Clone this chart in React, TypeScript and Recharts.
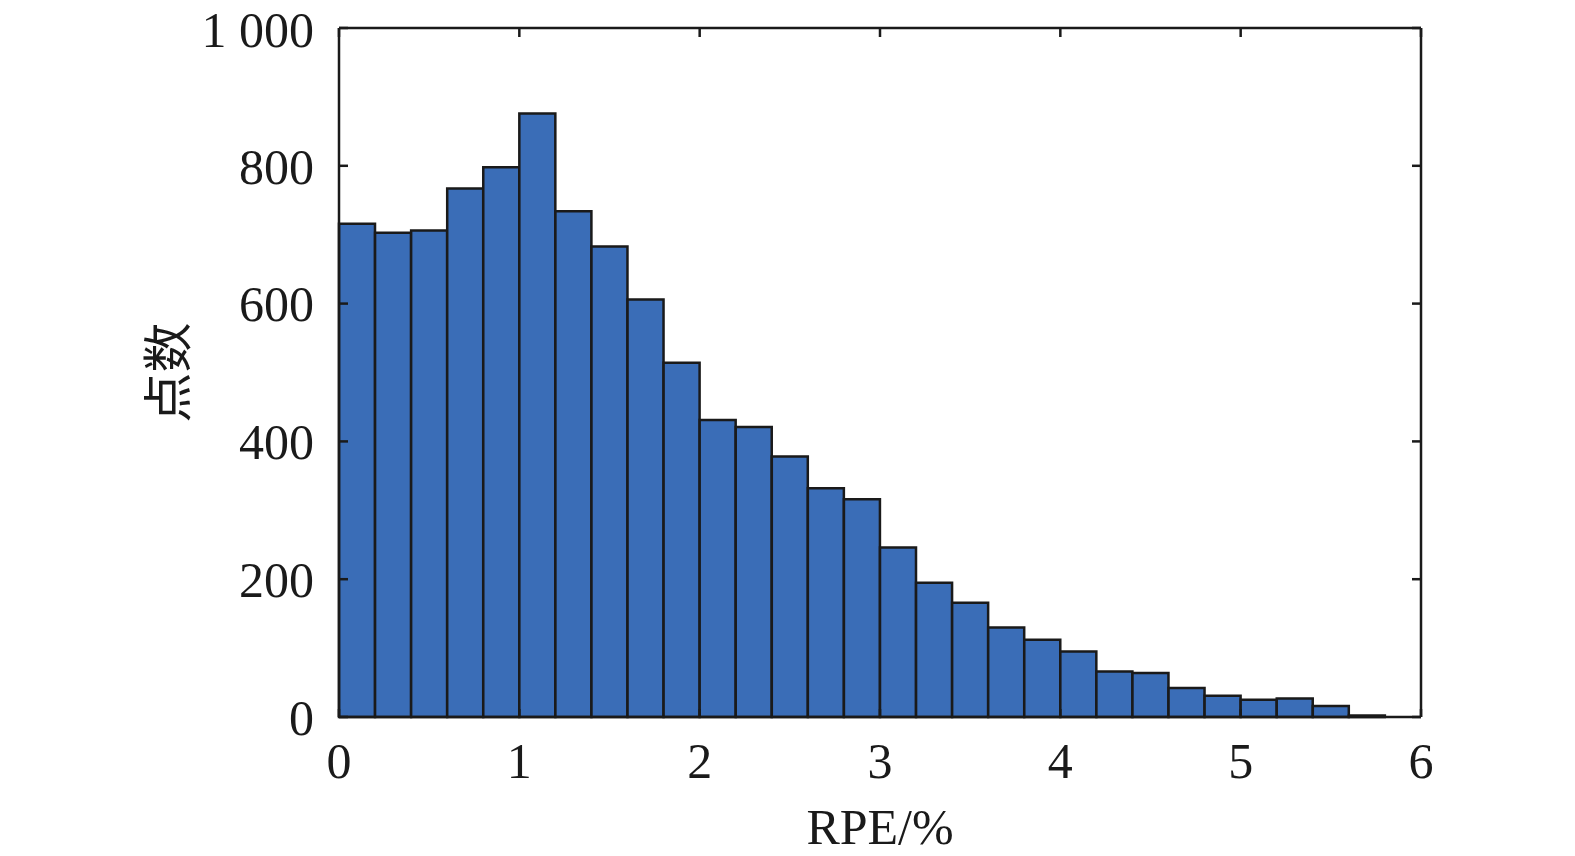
import { ComposedChart, Bar, Line, XAxis, YAxis } from 'recharts'

// histogram bins of RPE (%), width 0.2
const binStart = [
  0, 0.2, 0.4, 0.6, 0.8, 1.0, 1.2, 1.4, 1.6, 1.8,
  2.0, 2.2, 2.4, 2.6, 2.8, 3.0, 3.2, 3.4, 3.6, 3.8,
  4.0, 4.2, 4.4, 4.6, 4.8, 5.0, 5.2, 5.4, 5.6, 5.8,
]
const counts = [
  716, 703, 706, 767, 798, 876, 734, 683, 606, 514,
  431, 421, 378, 332, 316, 246, 195, 166, 130, 112,
  95, 66, 64, 42, 31, 25, 27, 16, 2, 0,
]
const xTicks = [0, 1, 2, 3, 4, 5, 6]
const yTicks = [0, 200, 400, 600, 800, 1000]

const data = binStart.map((s, i) => ({ bin: String(i), mid: s + 0.1, count: counts[i] }))

const font = '"Liberation Serif", "Times New Roman", serif'
const tickStyle = { fill: '#1a1a1a', fontSize: 50, fontFamily: font }
const axisStroke = { stroke: '#1a1a1a', strokeWidth: 2.5 }

const fmtY = (v: number) => (v >= 1000 ? '1 000' : String(v))
const blank = () => ''

export default function App() {
  return (
    <div style={{ position: 'absolute', left: 0, top: 0, width: 1575, height: 856, background: '#fff' }}>
      <ComposedChart
        width={1575}
        height={856}
        data={data}
        margin={{ top: 27, right: 0, bottom: 0, left: 0 }}
        barCategoryGap={0}
        barGap={0}
      >
        <XAxis xAxisId="cat" dataKey="bin" hide height={0} />
        <XAxis
          xAxisId="num"
          dataKey="mid"
          type="number"
          domain={[0, 6]}
          ticks={xTicks}
          allowDataOverflow
          height={139}
          axisLine={axisStroke}
          tickLine={axisStroke}
          tickSize={-8}
          tickMargin={33}
          tick={tickStyle}
          label={{ value: 'RPE/%', position: 'insideBottom', offset: 12, fill: '#1a1a1a', fontSize: 50, fontFamily: font }}
        />
        <XAxis
          xAxisId="top"
          orientation="top"
          dataKey="mid"
          type="number"
          domain={[0, 6]}
          ticks={xTicks}
          allowDataOverflow
          height={1}
          axisLine={axisStroke}
          tickLine={axisStroke}
          tickSize={-9}
          tickFormatter={blank}
        />
        <YAxis
          yAxisId="left"
          domain={[0, 1000]}
          ticks={yTicks}
          width={339}
          axisLine={axisStroke}
          tickLine={axisStroke}
          tickSize={-9}
          tickMargin={34}
          tick={tickStyle}
          tickFormatter={fmtY}
          label={{
            content: (props: any) => {
              const vb = props.viewBox
              const cx = vb.x + 164
              const cy = vb.y + vb.height / 2
              return (
                <text
                  x={cx}
                  y={cy}
                  transform={`rotate(-90 ${cx} ${cy})`}
                  textAnchor="middle"
                  dominantBaseline="central"
                  fill="#1a1a1a"
                  fontSize={50}
                  fontFamily='"Noto Sans CJK SC", sans-serif'
                >
                  点数
                </text>
              )
            },
          }}
        />
        <YAxis
          yAxisId="right"
          orientation="right"
          domain={[0, 1000]}
          ticks={yTicks}
          width={154}
          axisLine={axisStroke}
          tickLine={axisStroke}
          tickSize={-9}
          tickFormatter={blank}
        />
        <Bar
          xAxisId="cat"
          yAxisId="left"
          dataKey="count"
          fill="#3a6db7"
          stroke="#1a1a1a"
          strokeWidth={2.5}
          isAnimationActive={false}
        />
        <Line
          xAxisId="num"
          yAxisId="right"
          dataKey="count"
          stroke="none"
          dot={false}
          activeDot={false}
          legendType="none"
          isAnimationActive={false}
        />
      </ComposedChart>
    </div>
  )
}
